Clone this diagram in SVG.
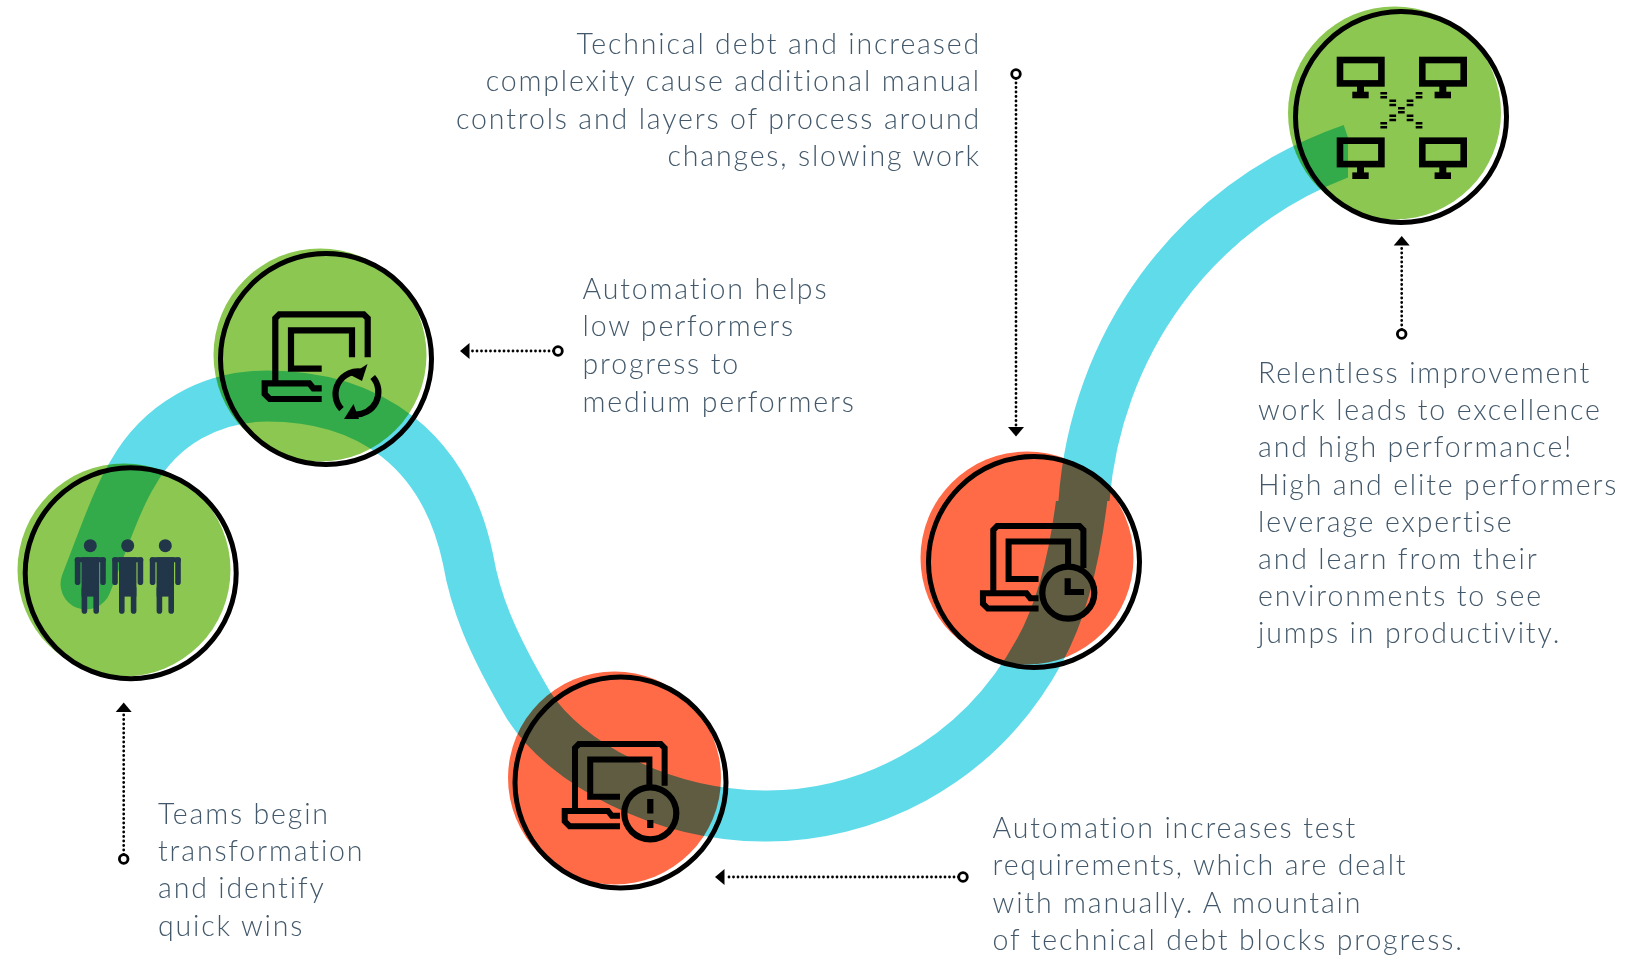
<svg xmlns="http://www.w3.org/2000/svg" xmlns:xlink="http://www.w3.org/1999/xlink" width="1626" height="970" viewBox="0 0 1626 970">
<style>
.fillg{fill:#8cc751;mix-blend-mode:multiply}
.fillo{fill:#ff6b47;mix-blend-mode:multiply}
.ring{fill:none;stroke:#000;stroke-width:5}
.ic{fill:none;stroke:#000;stroke-width:6.2}
.rib{fill:none;stroke:#5fdbea;stroke-width:51}
.dot{fill:none;stroke:#000;stroke-width:2.8;stroke-linecap:round;stroke-dasharray:0 4.5;marker-start:url(#start);marker-end:url(#tip)}
.t{font-family:"Lato","Open Sans",sans-serif;font-weight:300;font-size:28.5px;letter-spacing:1.85px;fill:#43596b}
.bk{fill:#000}
.nv{fill:#22364a}
</style>
<defs>
<marker id="tip" markerUnits="userSpaceOnUse" markerWidth="12" markerHeight="20" refX="0" refY="10" orient="auto"><path d="M0 2L9.5 10L0 18Z" fill="#000"/></marker>
<marker id="start" markerUnits="userSpaceOnUse" markerWidth="14" markerHeight="14" refX="7" refY="7" orient="auto"><circle cx="7" cy="7" r="4.3" fill="#fff" stroke="#000" stroke-width="2.8"/></marker>
<clipPath id="lowerClip"><path d="M0 0H1000V501H1626V970H0Z"/></clipPath>
<clipPath id="upperClip"><rect x="1000" y="0" width="348" height="501"/></clipPath>
<g id="laptop" class="ic">
<path d="M0 67.400V4L4 0H88.400L92.400 4V43"/>
<path d="M46.400 54.400H15.700V16H76.700V43"/>
<path d="M46.400 74H38L34 69H-10.600V79.700L-5.600 84.700H46.400"/>
</g>
<g id="person" class="nv">
<circle r="6.500"/>
<rect x="-15.500" y="11.600" width="31" height="5" rx="2"/>
<rect x="-15.500" y="11.600" width="5.600" height="27.700" rx="2.800"/>
<rect x="9.900" y="11.600" width="5.600" height="27.700" rx="2.800"/>
<rect x="-8.700" y="11.600" width="17.400" height="39.300"/>
<rect x="-8.700" y="40" width="5.600" height="28" rx="2.800"/>
<rect x="3.100" y="40" width="5.600" height="28" rx="2.800"/>
</g>
<g id="monitor">
<rect x="3.300" y="3.300" width="41.400" height="23.400" fill="none" stroke="#000" stroke-width="6.600"/>
<rect x="20.300" y="29" width="7" height="7" class="bk"/>
<rect x="15.600" y="35" width="16.400" height="6.600" class="bk"/>
</g>
</defs>

<g id="connectors">
<g id="ribbon">
<path class="rib" clip-path="url(#lowerClip)" stroke-linecap="round" d="M86 584C105 535 118 497 133 473C160 425 210 396 267 396C370 396 445 450 468 559C475 600 490 640 529 706C565 762 660 816 767 816C860 816 975 770 1040 650C1062 610 1077 550 1084 480"/>
<path class="rib" clip-path="url(#upperClip)" d="M1083 520L1084 501C1095 350 1190 205 1352 149"/>
</g>
<path class="dot" d="M123.700 859V712"/>
<path class="dot" d="M558 351H469.500"/>
<path class="dot" d="M963 877H724.500"/>
<path class="dot" d="M1016 74V427"/>
<path class="dot" d="M1401.700 334V245.500"/>
</g>

<g id="node-teams">
<circle class="fillg" cx="124" cy="570" r="106.500"/>
<circle class="ring" cx="130.700" cy="573.300" r="105.500"/>
<use xlink:href="#person" href="#person" x="90.300" y="545.700"/>
<use xlink:href="#person" href="#person" x="127.700" y="545.700"/>
<use xlink:href="#person" href="#person" x="165.300" y="545.700"/>
</g>

<g id="node-low">
<circle class="fillg" cx="320" cy="355" r="106.500"/>
<circle class="ring" cx="326" cy="359" r="105.500"/>
<use xlink:href="#laptop" href="#laptop" transform="translate(275.300 314.300)"/>
<path class="ic" d="M341.500 409.200A22.500 22.500 0 0 1 363 372"/>
<path class="ic" d="M372.700 377A22.500 22.500 0 0 1 354 414.400"/>
<path class="bk" d="M367.500 364L362 381L350.500 375Z"/>
<path class="bk" d="M344 419H359L353.500 404Z"/>
</g>

<g id="node-debt">
<circle class="fillo" cx="614.500" cy="778" r="106.500"/>
<circle class="ring" cx="620.500" cy="782.500" r="105.500"/>
<use xlink:href="#laptop" href="#laptop" transform="translate(575 744) scale(.97)"/>
<circle class="ic" cx="650.300" cy="813.300" r="26"/>
<path class="ic" d="M650.300 799V813.500M650.300 820V828"/>
</g>

<g id="node-clock">
<circle class="fillo" cx="1027" cy="558" r="106.500"/>
<circle class="ring" cx="1034" cy="562" r="105.500"/>
<use xlink:href="#laptop" href="#laptop" transform="translate(993.300 526) scale(.975)"/>
<circle class="ic" cx="1068.300" cy="592.700" r="26"/>
<path class="ic" d="M1067.700 578.300V592H1084"/>
</g>

<g id="node-elite">
<circle class="fillg" cx="1394.500" cy="113" r="106.500"/>
<circle class="ring" cx="1401" cy="117" r="105.500"/>
<use xlink:href="#monitor" href="#monitor" x="1336.700" y="56.700"/>
<use xlink:href="#monitor" href="#monitor" x="1419" y="56.700"/>
<use xlink:href="#monitor" href="#monitor" x="1336.700" y="137.400"/>
<use xlink:href="#monitor" href="#monitor" x="1419" y="137.400"/>
<path fill="none" stroke="#000" stroke-width="2.600" d="M1380.400 93.300h6.700M1380.400 97.300h6.700M1389.400 100.700h6.700M1389.400 105h6.700M1398 108.300h6.700M1398 112.300h6.700M1406.700 100.700h6.700M1406.700 105h6.700M1415.700 93.300h6.700M1415.700 97.300h6.700M1389.400 115.700h6.700M1389.400 120h6.700M1406.700 115.700h6.700M1406.700 120h6.700M1380.400 123.300h6.700M1380.400 127.300h6.700M1415.700 123.300h6.700M1415.700 127.300h6.700"/>
</g>

<g id="labels">
<text class="t"><tspan x="158" y="823.500">Teams begin</tspan><tspan x="158" y="860.800">transformation</tspan><tspan x="158" y="898">and identify</tspan><tspan x="158" y="935.500">quick wins</tspan></text>
<text class="t"><tspan x="582.500" y="298.500">Automation helps</tspan><tspan x="582.500" y="336">low performers</tspan><tspan x="582.500" y="373.500">progress to</tspan><tspan x="582.500" y="411.500">medium performers</tspan></text>
<text class="t" text-anchor="end"><tspan x="981" y="53.500">Technical debt and increased</tspan><tspan x="981" y="91">complexity cause additional manual</tspan><tspan x="981" y="128.500">controls and layers of process around</tspan><tspan x="981" y="166">changes, slowing work</tspan></text>
<text class="t"><tspan x="992.500" y="838">Automation increases test</tspan><tspan x="992.500" y="875">requirements, which are dealt</tspan><tspan x="992.500" y="912.500">with manually. A mountain</tspan><tspan x="992.500" y="949.500">of technical debt blocks progress.</tspan></text>
<text class="t"><tspan x="1258" y="383">Relentless improvement</tspan><tspan x="1258" y="420.300">work leads to excellence</tspan><tspan x="1258" y="457.300">and high performance!</tspan><tspan x="1258" y="494.800">High and elite performers</tspan><tspan x="1258" y="531.800">leverage expertise</tspan><tspan x="1258" y="569.300">and learn from their</tspan><tspan x="1258" y="606.300">environments to see</tspan><tspan x="1258" y="643.300">jumps in productivity.</tspan></text>
</g>
</svg>
